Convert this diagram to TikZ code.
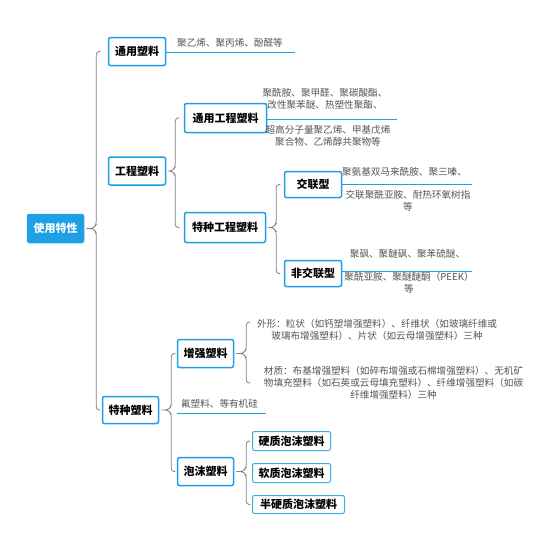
\documentclass[tikz,border=0pt]{standalone}
\usepackage{fontspec}
\setmainfont{Noto Sans CJK SC}
\usetikzlibrary{calc}
\definecolor{xblue}{HTML}{1E9FE6}
\definecolor{xline}{HTML}{7F7F7F}
\definecolor{xtext}{HTML}{555555}
\tikzset{
  topic/.style={draw=xblue,line width=1.5pt,rounded corners=2pt,fill=white,inner sep=0pt,
    font=\fontsize{11}{13}\selectfont\bfseries},
  subtopic/.style={topic,draw=xblue!85,line width=1pt},
  rootbox/.style={topic,fill=xblue,draw=xblue,text=white},
  leaf/.style={text=xtext,align=center,inner sep=0pt,font=\fontsize{9.6}{11.8}\selectfont},
  brc/.style={draw=xline,line width=0.8pt,rounded corners=3pt},
  uline/.style={draw=xblue,line width=1pt},
}
% curly bracket from #1 to the rows of #2 (top) and #3 (bottom), #4 = depth
\newcommand{\bracket}[4]{%
  \draw[brc] let \p1=($(#1.east)+(2pt,0)$), \p2=(#2), \p3=(#3) in
    (\x1,\y1) -- (\x1+#4-3pt,\y1) -- (\x1+#4,\y1+4pt) -- (\x1+#4,\y2) -- (\x1+#4+4pt,\y2)
    (\x1,\y1) -- (\x1+#4-3pt,\y1) -- (\x1+#4,\y1-4pt) -- (\x1+#4,\y3) -- (\x1+#4+4pt,\y3);}
\begin{document}
\begin{tikzpicture}[x=1pt,y=-1pt]
  \useasboundingbox (0,0) rectangle (553,533);

  % Topics
  \node[rootbox,minimum width=56,minimum height=28] (root) at (55.5,228.5) {使用特性};
  \node[topic,minimum width=57,minimum height=28] (gen) at (137,51.5) {通用塑料};
  \node[topic,minimum width=57,minimum height=28] (eng) at (137,171) {工程塑料};
  \node[topic,minimum width=56,minimum height=27] (spec) at (130.5,410) {特种塑料};
  \node[topic,minimum width=82,minimum height=29] (geng) at (225.5,118) {通用工程塑料};
  \node[topic,minimum width=81,minimum height=30] (seng) at (225,227.5) {特种工程塑料};
  \node[topic,minimum width=57,minimum height=26] (cross) at (313,184.5) {交联型};
  \node[topic,minimum width=57,minimum height=26] (ncross) at (313,273.5) {非交联型};
  \node[topic,minimum width=56,minimum height=28] (reinf) at (205.5,353.5) {增强塑料};
  \node[topic,minimum width=56,minimum height=28] (foam) at (205.5,471.5) {泡沫塑料};
  \node[subtopic,minimum width=78,minimum height=19] (rigid) at (291.5,441) {硬质泡沫塑料};
  \node[subtopic,minimum width=78,minimum height=19] (soft) at (291.5,473) {软质泡沫塑料};
  \node[subtopic,minimum width=92,minimum height=18] (semi) at (298.5,504.5) {半硬质泡沫塑料};

  % Leaves
  \node[leaf] (gen-a) at (230,43) {聚乙烯、聚丙烯、酚醛等};
  \node[leaf] (geng-a) at (325,99) {聚酰胺、聚甲醛、聚碳酸酯、\\改性聚苯醚、热塑性聚酯、};
  \node[leaf] (geng-b) at (328,136) {超高分子量聚乙烯、甲基戊烯\\聚合物、乙烯醇共聚物等};
  \node[leaf] (cross-a) at (404.5,172) {聚氨基双马来酰胺、聚三嗪、};
  \node[leaf] (cross-b) at (408,200.5) {交联聚酰亚胺、耐热环氧树指\\等};
  \node[leaf] (ncross-a) at (407.5,254) {聚砜、聚醚砜、聚苯硫醚、};
  \node[leaf] (ncross-b) at (409,283) {聚酰亚胺、聚醚醚酮（PEEK）\\等};
  \node[leaf] (shape) at (377,330) {外形：粒状（如钙塑增强塑料）、纤维状（如玻璃纤维或\\玻璃布增强塑料）、片状（如云母增强塑料）三种};
  \node[leaf] (mat) at (393.5,383) {材质：布基增强塑料（如碎布增强或石棉增强塑料）、无机矿\\物填充塑料（如石英或云母填充塑料）、纤维增强塑料（如碳\\纤维增强塑料）三种};
  \node[leaf] (fluo) at (219.5,404) {氟塑料、等有机硅};

  % Line ends
  \coordinate (gen-end) at (295,52);
  \coordinate (geng-end) at (397,119);
  \coordinate (cross-end) at (472,184);
  \coordinate (ncross-end) at (472,271);
  \coordinate (fluo-beg) at (177,413);
  \coordinate (fluo-end) at (266,413);
  \coordinate (shape-in) at (251,322);
  \coordinate (mat-in) at (251,383);

  % Underlines
  \draw[uline] (gen.east |- gen-end) -- (gen-end);
  \draw[uline] (geng.east |- geng-end) -- (geng-end);
  \draw[uline] (cross.east |- cross-end) -- (cross-end);
  \draw[uline] (ncross.east |- ncross-end) -- (ncross-end);
  \draw[uline] (fluo-beg) -- (fluo-end);

  % Brackets
  \bracket{root}{gen}{spec}{10pt}
  \bracket{eng}{geng}{seng}{7pt}
  \bracket{seng}{cross}{ncross}{8pt}
  \bracket{spec}{reinf}{foam}{10pt}
  \bracket{reinf}{shape-in}{mat-in}{10pt}
  \bracket{foam}{rigid}{semi}{10pt}
\end{tikzpicture}
\end{document}
